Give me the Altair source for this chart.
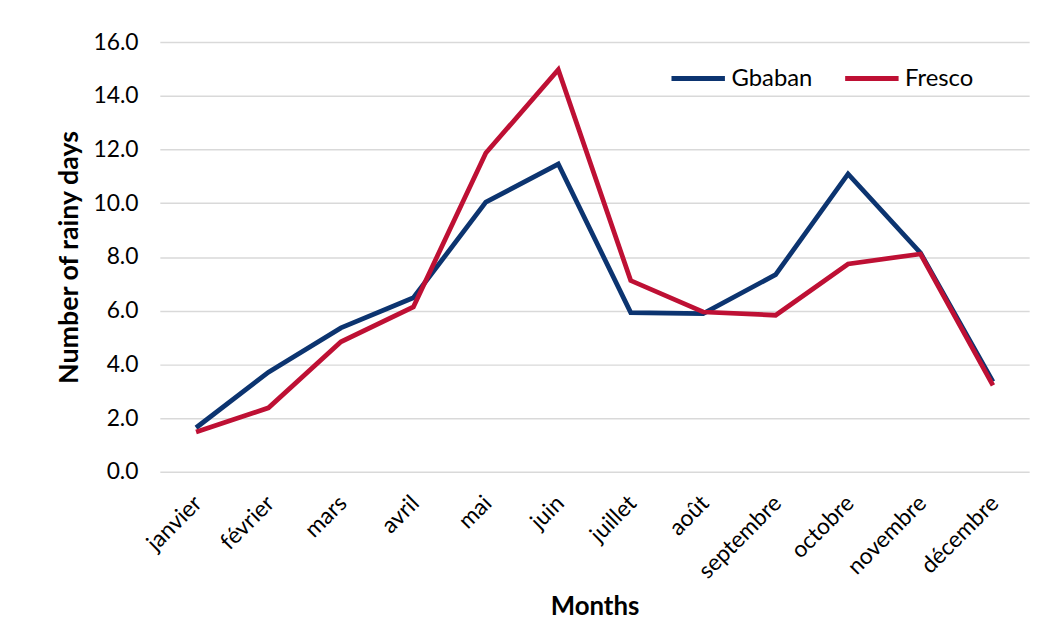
import altair as alt
import pandas as pd

months = ["janvier", "février", "mars", "avril", "mai", "juin", "juillet",
          "août", "septembre", "octobre", "novembre", "décembre"]
gbaban = [1.64, 3.71, 5.36, 6.48, 10.04, 11.46, 5.93, 5.89, 7.34, 11.09, 8.15, 3.36]
fresco = [1.48, 2.38, 4.84, 6.14, 11.87, 14.97, 7.12, 5.95, 5.83, 7.74, 8.11, 3.22]
series = ["Gbaban", "Fresco"]
colors = ["#0C3470", "#BE1034"]

rows = []
for i, m in enumerate(months):
    rows.append({"month": m, "series": "Gbaban", "value": gbaban[i], "order": i})
    rows.append({"month": m, "series": "Fresco", "value": fresco[i], "order": i})
df = pd.DataFrame(rows)

FONT = "Lato"

chart = alt.Chart(df).mark_line(strokeWidth=4.8, strokeJoin="miter").encode(
    x=alt.X("month:N", sort=months, scale=alt.Scale(paddingInner=0, paddingOuter=0),
            axis=alt.Axis(title="Months", labelAngle=-45, labelAlign="right",
                          labelBaseline="top", labelFontSize=23, labelColor="#000000",
                          labelFont=FONT, labelPadding=20, labelOffset=-6, titleFont=FONT,
                          titleFontSize=26, titleFontWeight="bold", titleColor="#000000",
                          titlePadding=11, ticks=False, domain=False, grid=False)),
    y=alt.Y("value:Q", scale=alt.Scale(domain=[0, 16]),
            axis=alt.Axis(title="Number of rainy days", values=[0, 2, 4, 6, 8, 10, 12, 14, 16],
                          format=".1f", labelFontSize=23, labelColor="#000000",
                          labelFont=FONT, labelPadding=22, titleFont=FONT,
                          titleFontSize=27, titleFontWeight="bold", titleColor="#000000",
                          titlePadding=10, ticks=False, domain=False,
                          gridColor="#D9D9D9", gridWidth=1.5)),
    color=alt.Color("series:N", sort=series,
                    scale=alt.Scale(domain=series, range=colors),
                    legend=alt.Legend(title=None, orient="none", direction="horizontal",
                                      legendX=513, legendY=7, symbolType="stroke",
                                      symbolStrokeWidth=5, symbolSize=2900,
                                      labelFontSize=24, labelFont=FONT, labelColor="#000000",
                                      columnPadding=22, labelOffset=4)),
    order="order:Q",
).properties(
    width=876, height=433,
    padding={"left": 153, "top": 32, "right": 22, "bottom": 150},
    autosize=alt.AutoSizeParams(type="none"),
).configure(background="#FFFFFF").configure_view(stroke=None)

chart.save("out.html", embed_options={"renderer": "svg", "actions": False})
